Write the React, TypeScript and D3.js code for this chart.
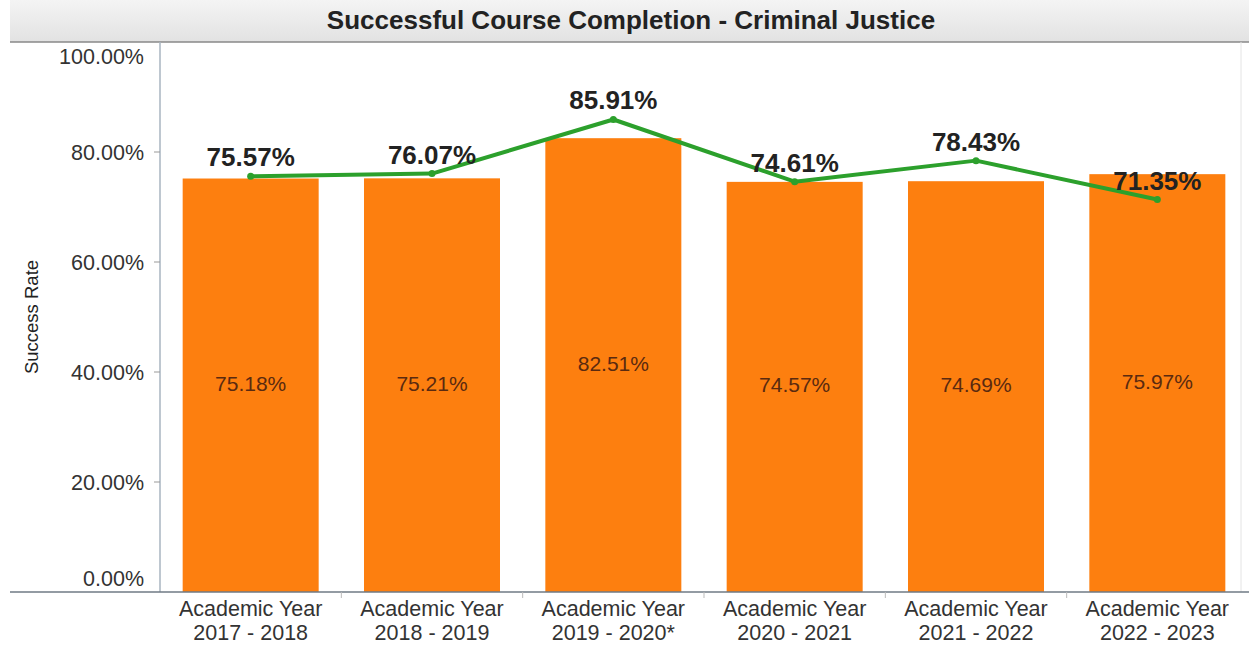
import React from "react";
import * as d3 from "d3";

const categories = [
  ["Academic Year", "2017 - 2018"],
  ["Academic Year", "2018 - 2019"],
  ["Academic Year", "2019 - 2020*"],
  ["Academic Year", "2020 - 2021"],
  ["Academic Year", "2021 - 2022"],
  ["Academic Year", "2022 - 2023"],
];
const barValues = [75.18, 75.21, 82.51, 74.57, 74.69, 75.97];
const lineValues = [75.57, 76.07, 85.91, 74.61, 78.43, 71.35];
const yTicks = [0, 20, 40, 60, 80, 100];

const W = 1249;
const H = 645;
const left = 160;
const right = 1248;
const top = 42;
const bottom = 592;

export default function App() {
  const keys = categories.map((_, i) => String(i));
  const x = d3.scaleBand().domain(keys).range([left, right]).paddingInner(0.25).paddingOuter(0.125);
  const y = d3.scaleLinear().domain([0, 100]).range([bottom, top]);
  const cx = (i: number) => (x(String(i)) as number) + x.bandwidth() / 2;
  const line = d3
    .line<number>()
    .x((_, i) => cx(i))
    .y((d) => y(d));
  const fmt = (v: number) => v.toFixed(2) + "%";
  const font = "'Liberation Sans', Arial, sans-serif";

  return (
    <div style={{ position: "absolute", left: 0, top: 0 }}>
      <svg width={W} height={H} style={{ display: "block", fontFamily: font }}>
        <defs>
          <linearGradient id="tg" x1="0" y1="0" x2="0" y2="1">
            <stop offset="0" stopColor="#f4f4f4" />
            <stop offset="1" stopColor="#e2e2e2" />
          </linearGradient>
        </defs>
        <rect x={0} y={0} width={W} height={H} fill="#fff" />
        <rect x={10} y={0} width={W - 10} height={top} fill="url(#tg)" />
        <text x={631} y={29} textAnchor="middle" fontSize={26} fontWeight="bold" fill="#222">
          Successful Course Completion - Criminal Justice
        </text>
        <line x1={10} x2={W} y1={top} y2={top} stroke="#888" strokeWidth={1.5} />
        <line x1={1241} x2={1241} y1={top} y2={bottom} stroke="#e4e4e4" strokeWidth={1} />

        {barValues.map((v, i) => (
          <rect
            key={"b" + i}
            x={x(String(i))}
            y={y(v)}
            width={x.bandwidth()}
            height={bottom - y(v)}
            fill="#fd7f0f"
          />
        ))}
        {barValues.map((v, i) => (
          <text
            key={"bl" + i}
            x={cx(i)}
            y={(y(v) + bottom) / 2}
            textAnchor="middle"
            dominantBaseline="middle"
            fontSize={21}
            fill="#5a2a10"
          >
            {fmt(v)}
          </text>
        ))}

        <path d={line(lineValues) || ""} fill="none" stroke="#2ca02c" strokeWidth={4} strokeLinejoin="round" />
        {lineValues.map((v, i) => (
          <circle key={"c" + i} cx={cx(i)} cy={y(v)} r={3.5} fill="#2ca02c" />
        ))}
        {lineValues.map((v, i) => (
          <text
            key={"ll" + i}
            x={cx(i)}
            y={y(v) - 10}
            textAnchor="middle"
            fontSize={26}
            fontWeight="bold"
            fill="#222"
          >
            {fmt(v)}
          </text>
        ))}

        <line x1={left} x2={left} y1={top} y2={bottom} stroke="#a9b4c0" strokeWidth={1.5} />
        {yTicks.map((t) => (
          <g key={"t" + t}>
            {t !== 0 && t !== 100 && (
              <line x1={left - 6} x2={left} y1={y(t)} y2={y(t)} stroke="#999" />
            )}
            <text
              x={144}
              y={t === 0 ? y(t) - 6 : t === 100 ? y(t) + 22 : y(t) + 8}
              textAnchor="end"
              fontSize={21.5}
              fill="#333"
            >
              {fmt(t)}
            </text>
          </g>
        ))}
        <line x1={10} x2={W} y1={bottom} y2={bottom} stroke="#6f7a85" strokeWidth={1.5} />
        {keys.slice(1).map((k) => (
          <line
            key={"xt" + k}
            x1={(x(k) as number) - (x.step() - x.bandwidth()) / 2}
            x2={(x(k) as number) - (x.step() - x.bandwidth()) / 2}
            y1={bottom}
            y2={bottom + 6}
            stroke="#bbb"
          />
        ))}
        {categories.map((c, i) => (
          <text key={"xl" + i} x={cx(i)} textAnchor="middle" fontSize={21.5} fill="#333">
            <tspan x={cx(i)} y={616}>
              {c[0]}
            </tspan>
            <tspan x={cx(i)} y={640}>
              {c[1]}
            </tspan>
          </text>
        ))}
        <text
          transform={`translate(38,${(top + bottom) / 2}) rotate(-90)`}
          textAnchor="middle"
          fontSize={18.5}
          fill="#222"
        >
          Success Rate
        </text>
      </svg>
    </div>
  );
}
